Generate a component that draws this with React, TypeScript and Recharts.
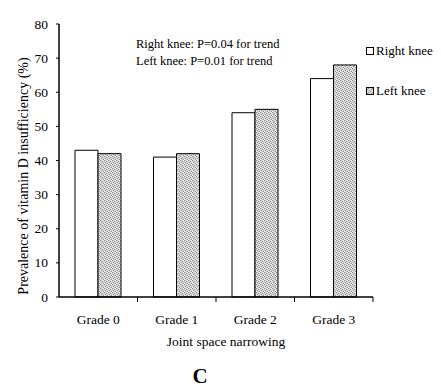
import React from "react";
import { BarChart, Bar, XAxis, YAxis } from "recharts";

const categories = ["Grade 0", "Grade 1", "Grade 2", "Grade 3"];
const rightKnee = [43, 41, 54, 64];
const leftKnee = [42, 42, 55, 68];
const yTicks = [0, 10, 20, 30, 40, 50, 60, 70, 80];
const seriesNames = ["Right knee", "Left knee"];
const annotations = ["Right knee: P=0.04 for trend", "Left knee: P=0.01 for trend"];
const xTitle = "Joint space narrowing";
const yTitle = "Prevalence of vitamin D insufficiency (%)";
const panelLabel = "C";

const data = categories.map((c, i) => ({ name: c, right: rightKnee[i], left: leftKnee[i] }));

const W = 441;
const H = 391;
const M = { top: 24, right: 68, bottom: 64, left: 0 };
const Y_W = 59;
const X_H = 30;
const PLOT_W = W - M.left - M.right - Y_W;
const HALF_BAND = PLOT_W / categories.length / 2;
const FONT = "'Liberation Serif', 'Times New Roman', serif";

const XTick = (props: any) => {
  const { x, y, payload } = props;
  return (
    <g>
      <line x1={x + HALF_BAND} x2={x + HALF_BAND} y1={y} y2={y + 5} stroke="#000" strokeWidth={1} />
      <text x={x} y={y + 27} textAnchor="middle" fontFamily={FONT} fontSize={13.5} fill="#000">
        {payload.value}
      </text>
    </g>
  );
};

const YTick = (props: any) => {
  const { x, y, payload } = props;
  return (
    <text x={x} y={y} dy={4.5} textAnchor="end" fontFamily={FONT} fontSize={13.5} fill="#000">
      {payload.value}
    </text>
  );
};

export default function App() {
  return (
    <div style={{ position: "absolute", left: 0, top: 0, width: W, height: H, background: "#fff" }}>
      <svg width={0} height={0} style={{ position: "absolute" }}>
        <defs>
          <pattern id="stipple" width={4} height={4} patternUnits="userSpaceOnUse">
            <rect width={4} height={4} fill="#d4d4d4" />
            <rect x={0} y={0} width={1} height={1} fill="#8a8a8a" />
            <rect x={2} y={1} width={1} height={1} fill="#9a9a9a" />
            <rect x={1} y={2} width={1} height={1} fill="#a0a0a0" />
            <rect x={3} y={3} width={1} height={1} fill="#8f8f8f" />
            <rect x={3} y={0} width={1} height={1} fill="#eeeeee" />
            <rect x={0} y={3} width={1} height={1} fill="#f0f0f0" />
          </pattern>
        </defs>
      </svg>
      <BarChart width={W} height={H} data={data} margin={M} barGap={0} barSize={23}>
        <XAxis
          dataKey="name"
          height={X_H}
          tickLine={false}
          tickSize={0}
          tickMargin={0}
          axisLine={{ stroke: "#000", strokeWidth: 1.5 }}
          tick={<XTick />}
          interval={0}
        />
        <YAxis
          width={Y_W}
          domain={[0, 80]}
          ticks={yTicks}
          interval={0}
          tickSize={3}
          tickMargin={8}
          axisLine={{ stroke: "#000", strokeWidth: 1.5 }}
          tickLine={{ stroke: "#000" }}
          tick={<YTick />}
        />
        <Bar dataKey="right" name={seriesNames[0]} fill="#fff" stroke="#000" strokeWidth={1} isAnimationActive={false} />
        <Bar dataKey="left" name={seriesNames[1]} fill="url(#stipple)" stroke="#000" strokeWidth={1} isAnimationActive={false} />
      </BarChart>
      <div style={{ position: "absolute", left: 366, top: 43, fontFamily: FONT, fontSize: 13, color: "#000" }}>
        {seriesNames.map((n, i) => (
          <div key={n} style={{ display: "flex", alignItems: "center", height: 16, marginBottom: i === 0 ? 24 : 0, whiteSpace: "nowrap" }}>
            <svg width={8} height={8} style={{ marginRight: 2 }}>
              <rect x={0.5} y={0.5} width={7} height={7} fill={i === 0 ? "#fff" : "url(#stipple)"} stroke="#000" strokeWidth={1} />
            </svg>
            <span>{n}</span>
          </div>
        ))}
      </div>
      {annotations.map((a, i) => (
        <div
          key={a}
          style={{ position: "absolute", left: 136, top: 36 + i * 17, lineHeight: "16px", fontFamily: FONT, fontSize: 12.5, color: "#000", whiteSpace: "nowrap" }}
        >
          {a}
        </div>
      ))}
      <div
        style={{ position: "absolute", left: 24, top: 176, transform: "translate(-50%, -50%) rotate(-90deg)", fontFamily: FONT, fontSize: 14, color: "#000", whiteSpace: "nowrap", lineHeight: "16px" }}
      >
        {yTitle}
      </div>
      <div
        style={{ position: "absolute", left: 226, top: 342, transform: "translate(-50%, -50%)", fontFamily: FONT, fontSize: 13.5, color: "#000", whiteSpace: "nowrap", lineHeight: "16px" }}
      >
        {xTitle}
      </div>
      <div
        style={{ position: "absolute", left: 200, top: 376, transform: "translate(-50%, -50%)", fontFamily: FONT, fontSize: 21, fontWeight: "bold", color: "#000", lineHeight: "22px" }}
      >
        {panelLabel}
      </div>
    </div>
  );
}
